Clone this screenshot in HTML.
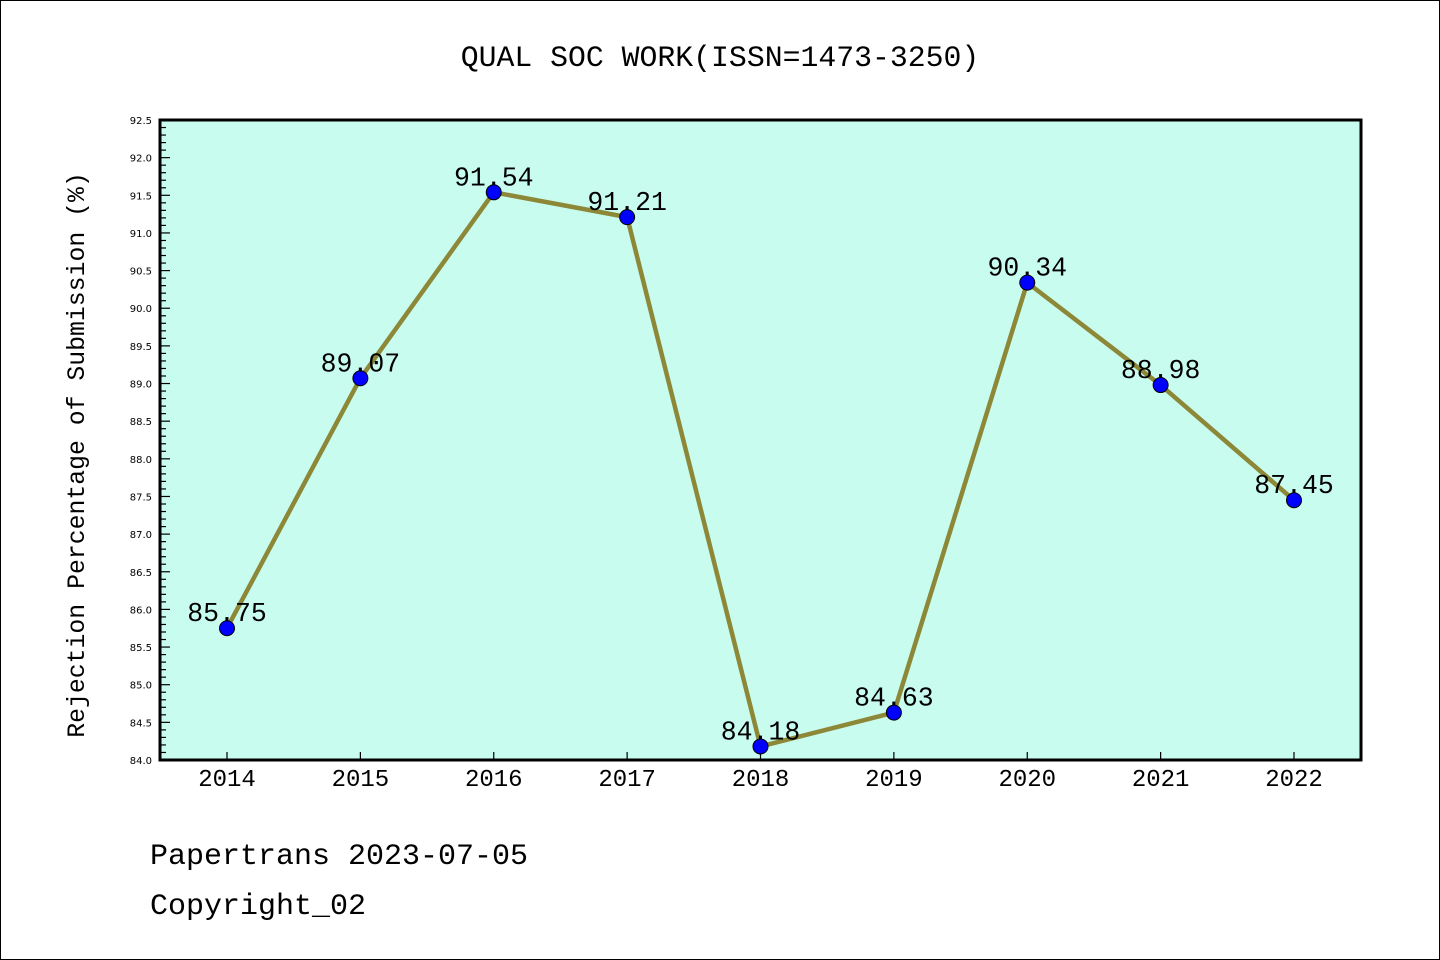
<!DOCTYPE html>
<html><head><meta charset="utf-8"><style>
html,body{margin:0;padding:0;background:#fff}
svg{display:block}
</style></head><body>
<svg id="chart" width="1440" height="960" xmlns="http://www.w3.org/2000/svg">
<rect x="0.5" y="0.5" width="1439" height="959" fill="#fff" stroke="#000"/>
<text x="720" y="66" text-anchor="middle" font-family="Liberation Mono, monospace" font-size="29.8">QUAL SOC WORK(ISSN=1473-3250)</text>
<rect x="160" y="120" width="1201" height="640" fill="#c8fcee"/>
<g id="axes"></g>
<g id="series"></g>
<rect x="160" y="120" width="1201" height="640" fill="none" stroke="#000" stroke-width="3"/>
<text transform="translate(84,455) rotate(-90)" text-anchor="middle" font-family="Liberation Mono, monospace" font-size="24.8">Rejection Percentage of Submission (%)</text>
<text x="150" y="864" font-family="Liberation Mono, monospace" font-size="30">Papertrans 2023-07-05</text>
<text x="150" y="914" font-family="Liberation Mono, monospace" font-size="30">Copyright_02</text>
</svg>
<script>
const years = ["2014","2015","2016","2017","2018","2019","2020","2021","2022"];
const rates = [85.75, 89.07, 91.54, 91.21, 84.18, 84.63, 90.34, 88.98, 87.45];
const yTicks = [84.0,84.5,85.0,85.5,86.0,86.5,87.0,87.5,88.0,88.5,89.0,89.5,90.0,90.5,91.0,91.5,92.0,92.5];
const NS="http://www.w3.org/2000/svg";
const yMin=84, yMax=92.5, plotTop=120, plotBottom=760;
function yS(v){return plotBottom-(v-yMin)/(yMax-yMin)*(plotBottom-plotTop);}
function xS(i){return 227+i*(1294-227)/(years.length-1);}
function mk(t,a,p){const e=document.createElementNS(NS,t);for(const k in a)e.setAttribute(k,a[k]);p.appendChild(e);return e;}
const axesG=document.getElementById('axes'), serG=document.getElementById('series');
for(let k=0;k<=Math.round((yMax-yMin)*10);k++){
  const v=yMin+k*0.1;
  const y=yS(v);const major=(k%5===0);
  const t=mk('line',{x1:160,x2:major?170:166,y1:y,y2:y,stroke:'#000','stroke-width':1.2},axesG);
  
  
}
yTicks.forEach(v=>{
  const t=mk('text',{x:152,y:yS(v)+4,'text-anchor':'end','font-family':'DejaVu Sans, sans-serif','font-size':10},axesG);
  t.textContent=v.toFixed(1);
  
  
});
years.forEach((yr,i)=>{
  const l=mk('line',{x1:xS(i),x2:xS(i),y1:760,y2:752,stroke:'#000','stroke-width':1.2},axesG);
  
  
  const t=mk('text',{x:xS(i),y:786,'text-anchor':'middle','font-family':'Liberation Mono, monospace','font-size':24},axesG);
  t.textContent=yr;
  
  
});
const pl=mk('polyline',{points:rates.map((v,i)=>xS(i)+','+yS(v)).join(' '),fill:'none',stroke:'#8c8838','stroke-width':4.5,'stroke-linejoin':'round'},serG);


rates.forEach((v,i)=>{
  const c=mk('circle',{cx:xS(i),cy:yS(v),r:7.5,fill:'#0000ff',stroke:'#000','stroke-width':1},serG);
  
  
  const t=mk('text',{x:xS(i),y:yS(v)-7,'text-anchor':'middle','font-family':'Liberation Mono, monospace','font-size':26.5},serG);
  t.textContent=v.toFixed(2);
  
  
});
</script>
</body></html>
